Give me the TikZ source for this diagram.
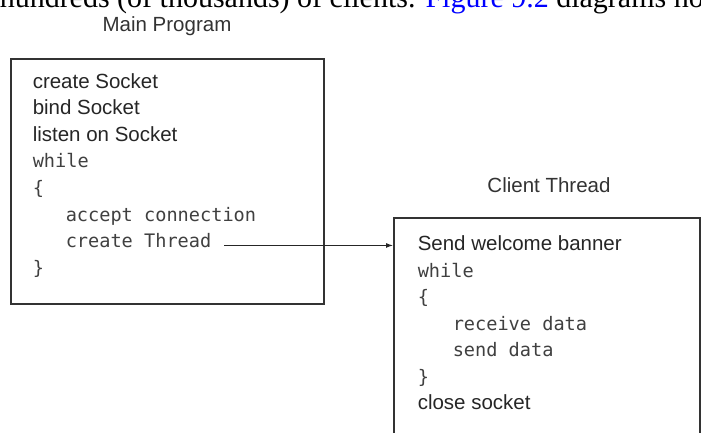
\documentclass[tikz,border=0pt]{standalone}
\usepackage{fontspec}
\newfontfamily\labelfont{Liberation Sans}
\newfontfamily\codefont{DejaVu Sans Mono}
\newfontfamily\pagefont{Liberation Serif}
\usetikzlibrary{positioning,arrows.meta}
\begin{document}
\begin{tikzpicture}[x=1pt,y=1pt,line width=1.5pt,
  panel/.style={draw=black!80,anchor=north west,inner sep=0pt},
  title/.style={font=\labelfont\fontsize{20.5}{24}\selectfont,text=black!80,anchor=base,inner sep=0pt},
  prose/.style={font=\labelfont\fontsize{20.5}{24}\selectfont,text=black!85,anchor=base west,inner sep=0pt},
  code/.style={font=\codefont\fontsize{18.6}{22}\selectfont,text=black!75,anchor=base west,inner sep=0pt},
  link/.style={-{Latex[length=7pt,width=5pt]},line width=1pt,draw=black!85}]
\useasboundingbox (0,0) rectangle (701,-432);
\clip (0,0) rectangle (701,-432);
% running text of the page, cut off at the top
\node[anchor=base west,inner sep=0pt,font=\pagefont\fontsize{30}{36}\selectfont] (pagetext) at (-1,-7.5)
  {hundreds (of thousands) of clients. \textcolor{blue}{Figure 9.2} diagrams ho};
% the two boxes
\node[panel,minimum width=313pt,minimum height=245pt] (mainbox) at (10,-58) {};
\node[panel,minimum width=306pt,minimum height=240pt] (client) at (393,-217) {};
\node[title] (maintitle) at (167,-31) {Main Program};
\node[title] (clienttitle) at (549,-192) {Client Thread};
% main program lines
\foreach \x/\sty/\txt [count=\i from 0] in {32/prose/create Socket,32/prose/bind Socket,
    32/prose/listen on Socket,32/code/while,32/code/\{,65/code/accept connection,
    65/code/create Thread,32/code/\}}
  \node[\sty] (m\i) at (\x,-88-26.6*\i) {\txt};
% client thread lines
\foreach \x/\sty/\txt [count=\i from 0] in {417/prose/Send welcome banner,417/code/while,
    417/code/\{,452/code/receive data,452/code/send data,417/code/\},417/prose/close socket}
  \node[\sty] (c\i) at (\x,-250.5-26.5*\i) {\txt};
\draw[link,shorten <=12pt] (m6.mid east) -- (m6.mid east -| client.west);
\end{tikzpicture}
\end{document}
